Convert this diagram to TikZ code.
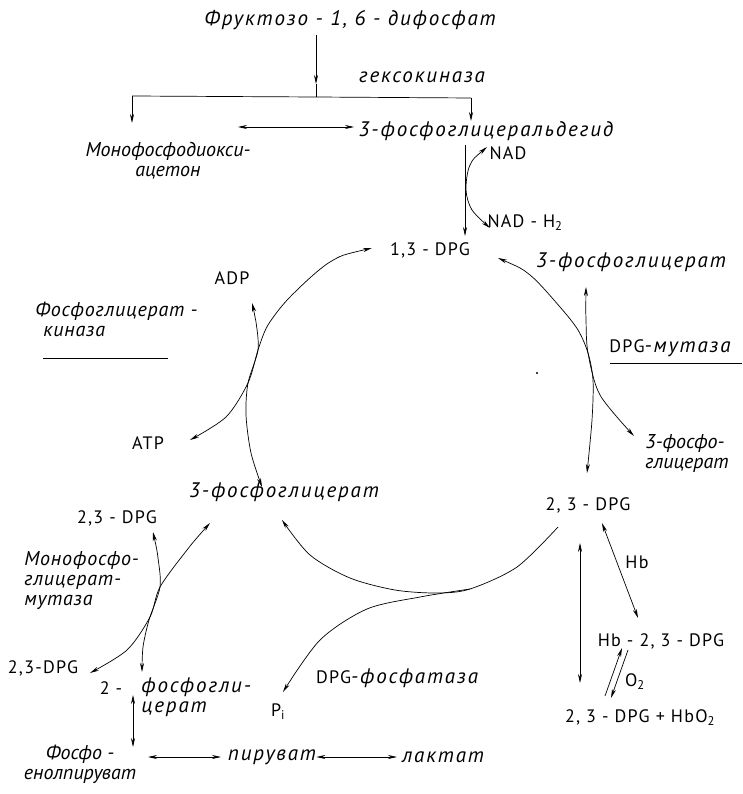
\documentclass[tikz,border=0pt]{standalone}
\usepackage{fontspec}
\setmainfont{PT Sans}
\newfontfamily\rufam[LetterSpace=9]{PT Sans}
\newfontfamily\rumidfam[LetterSpace=4]{PT Sans}
\newfontfamily\lafam[LetterSpace=7]{PT Sans}
\usetikzlibrary{arrows.meta}
\newcommand{\rufont}{\rufam\fontsize{21}{20}\selectfont\itshape}
\newcommand{\rumid}{\rumidfam\fontsize{20}{20}\selectfont\itshape}
\newcommand{\runarrow}{\fontsize{20}{20}\selectfont\itshape}
\newcommand{\lafont}{\lafam\fontsize{18}{20}\selectfont}

\begin{document}
\begin{tikzpicture}[
    x=1pt, y=-1pt,
    every node/.style={inner sep=0pt},
    ru/.style={font=\rufont},
    rm/.style={font=\rumid},
    rn/.style={font=\runarrow},
    la/.style={font=\lafont},
    >={Stealth[length=9pt, width=4pt]},
    line width=0.7pt,
]
\useasboundingbox (0,0) rectangle (742,794);

% === Fructose-1,6-diphosphate split ===
\node[ru] (fdp) at (350,20) {Фруктозо - 1, 6 - дифосфат};
\node[ru] (hk) at (422,77) {гексокиназа};
\coordinate (split) at (316,97);
\draw[->] (316,35) -- (316,84);
\draw (316,84) -- (split);
\draw (132,96) -- (split) -- (471,98);
\draw[->] (132,96) -- (132,123);
\draw[->] (471,98) -- (471,121);

\node[rn, align=center] (dhap) at (168,161) {Монофосфодиокси-\\ацетон};
\node[ru] (gap) at (486,131) {3-фосфоглицеральдегид};
\draw[<->] (238,127) -- (354,127);

% === NAD step ===
\node[la] (nad) at (508,153) {NAD};
\node[la] (nadh) at (525,223) {NAD - H\textsubscript{2}};
\node[la] (dpg13) at (430,250) {1,3 - DPG};
\draw[->] (465,145) -- (465,236);
\draw[<->] plot[smooth] coordinates {(487,147) (470,165) (466,190) (472,210) (490,228)};

% === Cycle, left: phosphoglycerate kinase ===
\node[la] (adp) at (232,278) {ADP};
\node[la] (atp) at (148,443) {ATP};
\node[rm, align=left, anchor=west] (pgk) at (35,319) {Фосфоглицерат -\\\hspace*{8pt}киназа};
\draw (43,358) -- (168,358);
\node[ru] (pg3c) at (284,492) {3-фосфоглицерат};
\draw[<->] plot[smooth] coordinates {(372,248) (330,262) (290,297) (268,325) (258,350) (248,383) (226,417) (190,440)};
\draw[<->] plot[smooth] coordinates {(252,303) (256,322) (258,350) (248,383) (246,415) (251,453) (262,487)};

% === Cycle, right: DPG mutase ===
\node[ru] (pg3a) at (631,262) {3-фосфоглицерат};
\node (mut) at (670,348) {{\lafont DPG}{\rufont -мутаза}};
\draw (610,363) -- (742,363);
\fill (537,373) circle (1.2pt);
\node[rn, align=left, anchor=west] (pg3b) at (645,453) {3-фосфо-\\глицерат};
\node[la] (dpg23) at (588,505) {2, 3 - DPG};
\draw[<->] plot[smooth] coordinates {(498,258) (530,275) (560,307) (578,330) (588,353) (593,380) (592,420) (587,473)};
\draw[<->] plot[smooth] coordinates {(586,287) (586,320) (588,353) (600,395) (634,436)};

% === Cycle, bottom: DPG phosphatase ===
\node (dpgp) at (397,678) {{\lafont DPG}{\rufont -фосфатаза}};
\node[la] (pi) at (278,712) {P\textsubscript{i}};
\draw[->] plot[smooth] coordinates {(558,527) (517,567) (470,589) (437,593) (395,590) (350,578) (310,555) (282,520)};
\draw[->] plot[smooth] coordinates {(470,589) (420,597) (367,609) (320,640) (283,692)};

% === Monophosphoglycerate mutase ===
\node[la] (dpg23a) at (117,518) {2,3 - DPG};
\node[rm, align=left, anchor=west] (mpgm) at (24,581) {Монофосфо-\\глицерат-\\мутаза};
\node[la] (dpg23b) at (43,668) {2,3-DPG};
\node[la] (pg2n) at (111,688) {2 -};
\node[ru, align=left, anchor=west] (pg2) at (141,697) {фосфогли-\\церат};
\draw[<->] plot[smooth] coordinates {(210,523) (187,550) (160,587) (150,617) (127,650) (90,673)};
\draw[<->] plot[smooth] coordinates {(153,532) (158,558) (160,587) (149,620) (143,647) (142,672)};

% === Lower glycolysis ===
\node[rn, align=center] (pep) at (80,764) {Фосфо -\\енолпируват};
\node[ru] (pyr) at (272,757) {пируват};
\node[ru] (lac) at (443,757) {лактат};
\draw[<->] (133,695) -- (133,747);
\draw[<->] (148,757) -- (221,757);
\draw[<->] (pyr.east) -- (397,757);

% === Haemoglobin binding ===
\node[la] (hb) at (637,562) {Hb};
\node[la] (hbdpg) at (661,641) {Hb - 2, 3 - DPG};
\node[la] (o2) at (635,682) {O\textsubscript{2}};
\node[la] (dpghb) at (640,718) {2, 3 - DPG + HbO\textsubscript{2}};
\draw[<->] (580,543) -- (580,683);
\draw[<->] (602,523) -- (638,618);
\draw[->] (605,696) -- (622,648);
\draw[->] (628,650) -- (611,698);

\end{tikzpicture}
\end{document}
